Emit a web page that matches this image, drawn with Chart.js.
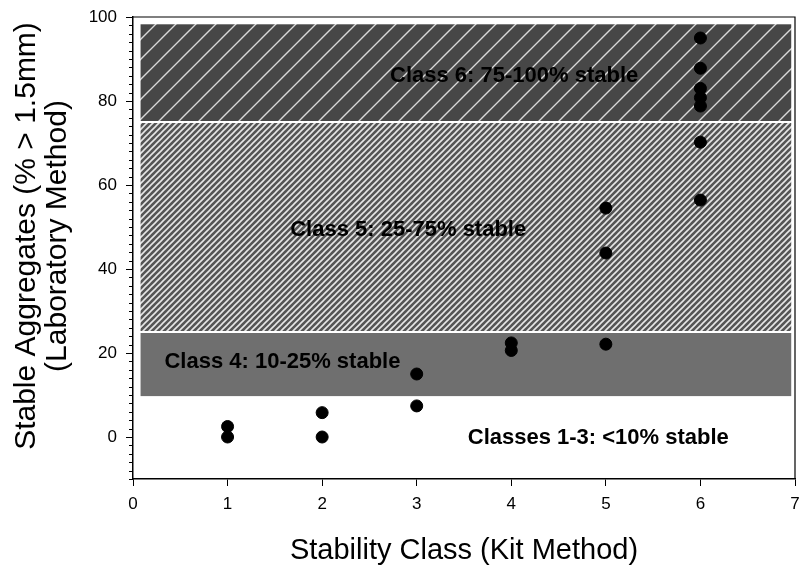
<!DOCTYPE html>
<html>
<head>
<meta charset="utf-8">
<script src="https://cdn.jsdelivr.net/npm/chart.js@4.4.0/dist/chart.umd.min.js"></script>
<style>
html, body { margin: 0; padding: 0; background: #fff; }
</style>
</head>
<body>
<canvas id="myChart" width="802" height="568"></canvas>
<script>
// values
var classX  = [1, 1, 2, 2, 3, 3, 4, 4, 5, 5, 5, 6, 6, 6, 6, 6, 6, 6];
var stableY = [2.5, 0, 5.8, 0, 15, 7.4, 22.4, 20.6, 22.1, 43.8, 54.5, 95, 87.8, 83, 80.8, 78.8, 70.2, 56.4];

// shaded stability bands (% stable)
var bandLow  = [9.5, 25, 75];
var bandHigh = [25, 75, 98.5];
var bandText = ['Class 4: 10-25% stable', 'Class 5: 25-75% stable', 'Class 6: 75-100% stable', 'Classes 1-3: <10% stable'];

// axis ticks
var xTicks = [0, 1, 2, 3, 4, 5, 6, 7];
var yTicks = [0, 20, 40, 60, 80, 100];

var FONT = '"Liberation Sans", Arial, sans-serif';

// hatch pattern: diagonal "/" lines on a grey ground
function hatch(size, bg, line, lw) {
    var c = document.createElement('canvas');
    c.width = size; c.height = size;
    var g = c.getContext('2d');
    g.fillStyle = bg;
    g.fillRect(0, 0, size, size);
    g.strokeStyle = line;
    g.lineWidth = lw;
    g.beginPath();
    g.moveTo(-1, size + 1); g.lineTo(size + 1, -1);
    g.moveTo(-1, 1); g.lineTo(1, -1);
    g.moveTo(size - 1, size + 1); g.lineTo(size + 1, size - 1);
    g.stroke();
    return g.createPattern(c, 'repeat');
}

var ctx = document.getElementById('myChart').getContext('2d');
var fills = ['#6f6f6f', hatch(6, '#555555', '#e6e6e6', 1.6), hatch(20, '#474747', '#d8d8d8', 1.4)];

// where the band captions sit (data units)
var textPos = [[1.58, 17.9], [2.91, 49.3], [4.03, 86], [4.92, -0.2]];

var bandPlugin = {
    id: 'bands',
    beforeDatasetsDraw: function(chart) {
        var c = chart.ctx, xs = chart.scales.x, ys = chart.scales.y;
        var left = xs.getPixelForValue(0.08), right = xs.getPixelForValue(6.96);
        c.save();
        for (var i = 0; i < bandLow.length; i++) {
            var top = ys.getPixelForValue(bandHigh[i]);
            var bot = ys.getPixelForValue(bandLow[i]);
            c.fillStyle = fills[i];
            c.fillRect(left, top + 1, right - left, bot - top - 2);
        }
        c.fillStyle = '#000';
        c.font = 'bold 22px ' + FONT;
        c.textAlign = 'center';
        c.textBaseline = 'middle';
        for (var j = 0; j < bandText.length; j++) {
            c.fillText(bandText[j], xs.getPixelForValue(textPos[j][0]), ys.getPixelForValue(textPos[j][1]));
        }
        c.restore();
    },
    afterDraw: function(chart) {
        var c = chart.ctx, a = chart.chartArea, ys = chart.scales.y;
        c.save();
        c.strokeStyle = '#000';
        // frame top and right
        c.lineWidth = 1.2;
        c.beginPath();
        c.moveTo(a.left, a.top); c.lineTo(a.right, a.top); c.lineTo(a.right, a.bottom);
        c.stroke();
        // y ticks, major every 20, minor every 2
        c.lineWidth = 1;
        c.beginPath();
        ys.ticks.forEach(function(t) {
            var py = Math.round(ys.getPixelForValue(t.value)) + 0.5;
            var len = yTicks.indexOf(t.value) >= 0 ? 7 : 4;
            c.moveTo(a.left, py); c.lineTo(a.left - len, py);
        });
        c.stroke();
        // y axis title, two lines
        c.fillStyle = '#000';
        c.font = '30px ' + FONT;
        c.textAlign = 'center';
        c.textBaseline = 'middle';
        c.translate(0, 236);
        c.rotate(-Math.PI / 2);
        c.fillText('Stable Aggregates (% > 1.5mm)', 0, 27);
        c.fillText('(Laboratory Method)', 0, 58);
        c.restore();
    }
};

var myChart = new Chart(ctx, {
    type: 'scatter',
    data: {
        datasets: [{
            label: 'Stable aggregates',
            data: classX.map(function(x, i) { return { x: x, y: stableY[i] }; }),
            backgroundColor: '#000',
            borderColor: '#000',
            pointRadius: 6,
            pointHoverRadius: 6
        }]
    },
    options: {
        responsive: false,
        animation: false,
        devicePixelRatio: 1,
        layout: { padding: { top: 17, right: 5, left: 0, bottom: 0 } },
        plugins: { legend: { display: false }, tooltip: { enabled: false } },
        scales: {
            x: {
                type: 'linear',
                min: 0, max: 7,
                afterBuildTicks: function(s) { s.ticks = xTicks.map(function(v) { return { value: v }; }); },
                afterFit: function(s) { s.height = 89; s.paddingLeft = 0; s.paddingRight = 0; },
                grid: { drawOnChartArea: false, drawTicks: true, tickLength: 7, tickColor: '#000', tickWidth: 1 },
                border: { color: '#000', width: 1.5 },
                ticks: { color: '#000', font: { family: FONT, size: 17 }, padding: 8 },
                title: { display: true, text: 'Stability Class (Kit Method)', color: '#000',
                         font: { family: FONT, size: 29 }, padding: { top: 0, bottom: 0 } }
            },
            y: {
                type: 'linear',
                min: -10, max: 100,
                ticks: {
                    stepSize: 2,
                    autoSkip: false,
                    color: '#000',
                    font: { family: FONT, size: 17 },
                    padding: 16,
                    callback: function(v) { return yTicks.indexOf(v) >= 0 ? String(v) : ''; }
                },
                afterFit: function(s) { s.width = 133; s.paddingTop = 0; s.paddingBottom = 0; },
                grid: { display: false, drawTicks: false },
                border: { color: '#000', width: 1.5 }
            }
        }
    },
    plugins: [bandPlugin]
});
</script>
</body>
</html>
